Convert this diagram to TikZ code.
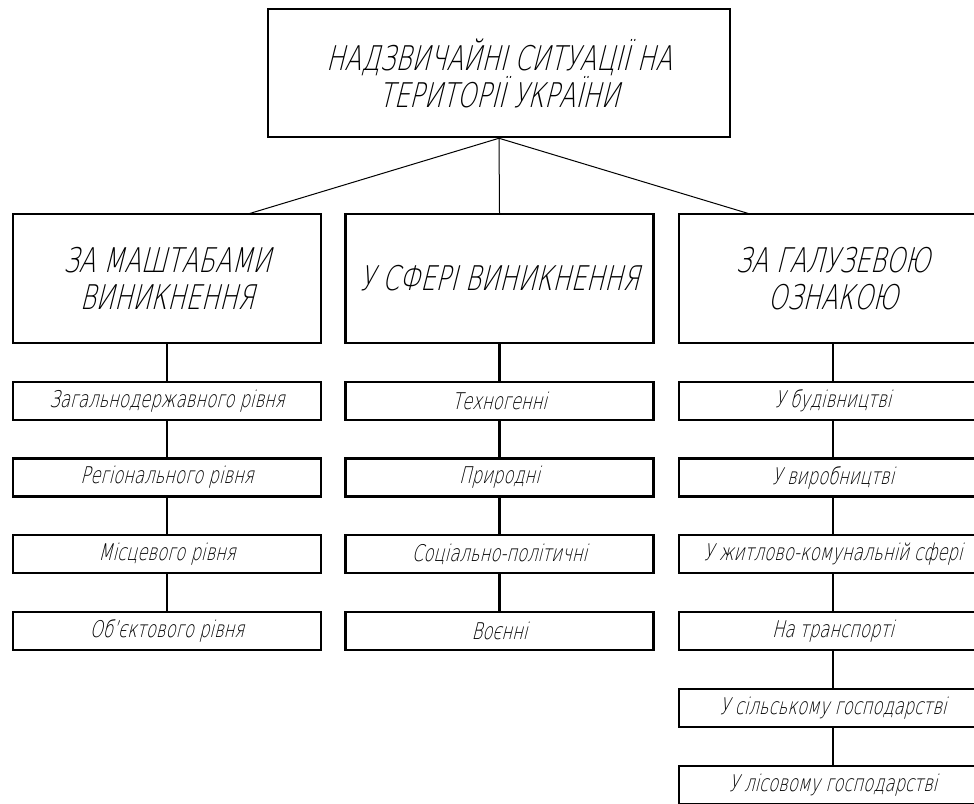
\documentclass[tikz,border=0pt]{standalone}
\usepackage{fontspec}
\newfontfamily\gost[FakeSlant=0.25,FakeStretch=0.715]{DejaVu Sans ExtraLight}
\tikzset{
  topbox/.style={draw, line width=2.5pt, minimum width=462, minimum height=128, align=center, inner sep=0pt, font=\gost\fontsize{34}{37}\selectfont},
  bigbox/.style={draw, line width=2.5pt, minimum width=308, minimum height=129, align=center, inner sep=0pt, font=\gost\fontsize{34}{37}\selectfont},
  smallbox/.style={draw, line width=2.5pt, minimum width=308, minimum height=38, align=center, inner sep=0pt, font=\gost\fontsize{23}{26}\selectfont},
  thinline/.style={line width=1pt},
  thickline/.style={line width=2.5pt}
}
\begin{document}
\begin{tikzpicture}[x=1pt,y=-1pt]
\useasboundingbox (0,0) rectangle (974,803);
\node[topbox] (top) at (499,73) {НАДЗВИЧАЙНІ СИТУАЦІЇ НА\\ТЕРИТОРІЇ УКРАЇНИ};
\node[bigbox] (a) at (167,278.5) {ЗА МАШТАБАМИ\\ВИНИКНЕННЯ};
\node[bigbox] (b) at (499.5,278.5) {У СФЕРІ ВИНИКНЕННЯ};
\node[bigbox] (c) at (833,278.5) {ЗА ГАЛУЗЕВОЮ\\ОЗНАКОЮ};
\coordinate (da) at (248,214);
\coordinate (dc) at (750,214);
\draw[thinline] (top.south) -- (da);
\draw[thinline] (top.south) -- (b.north);
\draw[thinline] (top.south) -- (dc);
% left column
\node[smallbox] (a1) at (167,401) {Загальнодержавного рівня};
\node[smallbox] (a2) at (167,477.5) {Регіонального рівня};
\node[smallbox] (a3) at (167,554) {Місцевого рівня};
\node[smallbox] (a4) at (167,631) {Об’єктового рівня};
% middle column
\node[smallbox] (b1) at (499.5,401) {Техногенні};
\node[smallbox] (b2) at (499.5,477.5) {Природні};
\node[smallbox] (b3) at (499.5,554) {Соціально-політичні};
\node[smallbox] (b4) at (499.5,631) {Воєнні};
% right column
\node[smallbox] (c1) at (833,401) {У будівництві};
\node[smallbox] (c2) at (833,477.5) {У виробництві};
\node[smallbox] (c3) at (833,554) {У житлово-комунальній сфері};
\node[smallbox] (c4) at (833,631) {На транспорті};
\node[smallbox] (c5) at (833,708) {У сільському господарстві};
\node[smallbox] (c6) at (833,785) {У лісовому господарстві};
\draw[thickline] (a) -- (a1) (a1) -- (a2) (a2) -- (a3) (a3) -- (a4);
\draw[thickline] (b) -- (b1) (b1) -- (b2) (b2) -- (b3) (b3) -- (b4);
\draw[thickline] (c) -- (c1) (c1) -- (c2) (c2) -- (c3) (c3) -- (c4) (c4) -- (c5) (c5) -- (c6);
\end{tikzpicture}
\end{document}
